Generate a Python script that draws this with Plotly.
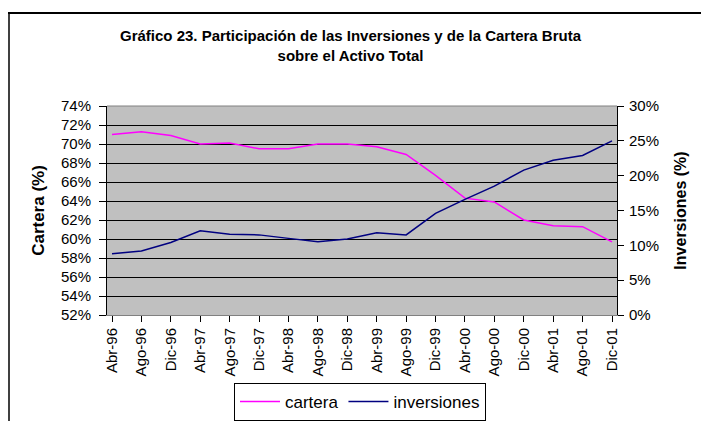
import plotly.graph_objects as go

categories = ["Abr-96", "Ago-96", "Dic-96", "Abr-97", "Ago-97", "Dic-97",
              "Abr-98", "Ago-98", "Dic-98", "Abr-99", "Ago-99", "Dic-99",
              "Abr-00", "Ago-00", "Dic-00", "Abr-01", "Ago-01", "Dic-01"]
cartera = [71.0, 71.3, 70.9, 70.0, 70.1, 69.5, 69.5, 70.0, 70.0, 69.7, 68.9,
           66.7, 64.3, 63.9, 62.0, 61.4, 61.3, 59.7]
inversiones = [8.8, 9.2, 10.4, 12.1, 11.6, 11.5, 11.0, 10.5, 10.9, 11.8, 11.5,
               14.6, 16.6, 18.5, 20.8, 22.2, 22.9, 25.0]

W, H = 701, 421
L, R, T, B = 107, 617, 106, 315
pw, ph = R - L, B - T

def px_x(x):
    return (x - L) / pw

def px_y(y):
    return (B - y) / ph

font = "Liberation Sans, Arial, sans-serif"

fig = go.Figure()
fig.add_trace(go.Scatter(x=categories, y=cartera, name="cartera", mode="lines",
                         line=dict(color="#FF00FF", width=1.5), yaxis="y"))
fig.add_trace(go.Scatter(x=categories, y=inversiones, name="inversiones", mode="lines",
                         line=dict(color="#000080", width=1.5), yaxis="y2"))

fig.update_layout(
    width=W, height=H,
    margin=dict(l=L, r=W - R, t=T, b=H - B, autoexpand=False),
    paper_bgcolor="white",
    plot_bgcolor="#C0C0C0",
    font=dict(family=font, size=15, color="black"),
    title=dict(text="<b>Gráfico 23. Participación de las Inversiones y de la Cartera Bruta<br>sobre el Activo Total</b>",
               x=0.5, xanchor="center", y=1 - 41 / H, yanchor="top",
               font=dict(family=font, size=15, color="black")),
    showlegend=True,
    legend=dict(orientation="h", x=px_x(360), xanchor="center", y=px_y(421), yanchor="bottom",
                bordercolor="black", borderwidth=1, bgcolor="white",
                font=dict(family=font, size=17, color="black"),
                itemwidth=40, tracegroupgap=0),
    xaxis=dict(type="category", range=[-0.17, 17.17], showgrid=False,
               ticks="outside", ticklen=6, tickcolor="black", tickangle=-90,
               showline=True, linecolor="#808080", linewidth=1, mirror=False,
               tickfont=dict(size=15), zeroline=False),
    yaxis=dict(range=[52, 74], dtick=2, ticksuffix="%", showgrid=True,
               gridcolor="black", gridwidth=1, ticks="outside", ticklen=7,
               ticklabelstandoff=5,
               tickcolor="black", showline=True, linecolor="black", linewidth=1,
               zeroline=False, tickfont=dict(size=15),
               title=dict(text="<b>Cartera (%)</b>", font=dict(size=17), standoff=12)),
    yaxis2=dict(range=[0, 30], dtick=5, ticksuffix="%", overlaying="y", side="right",
                showgrid=False, ticks="outside", ticklen=6, tickcolor="black",
                ticklabelstandoff=2,
                showline=True, linecolor="black", linewidth=1, zeroline=False,
                tickfont=dict(size=15),
                title=dict(text="<b>Inversiones (%)</b>", font=dict(size=16), standoff=16)),
    shapes=[
        dict(type="line", xref="paper", yref="paper",
             x0=px_x(9), x1=px_x(9), y0=px_y(430), y1=px_y(12),
             line=dict(color="black", width=1.5)),
        dict(type="line", xref="paper", yref="paper",
             x0=px_x(9), x1=px_x(695), y0=px_y(13), y1=px_y(13),
             line=dict(color="black", width=1.5)),
        dict(type="line", xref="paper", yref="paper", x0=0, x1=1, y0=1, y1=1,
             line=dict(color="#808080", width=1)),
    ],
)

frame_js = (
    "document.body.style.margin='0';document.body.style.overflow='hidden';"
    "var fr=document.createElement('div');"
    "fr.style.cssText='position:absolute;left:8px;top:12px;width:720px;height:2px;"
    "background:black;pointer-events:none;z-index:10;';"
    "document.body.appendChild(fr);"
)

fig.write_html("out.html", config={"displayModeBar": False}, post_script=frame_js)
